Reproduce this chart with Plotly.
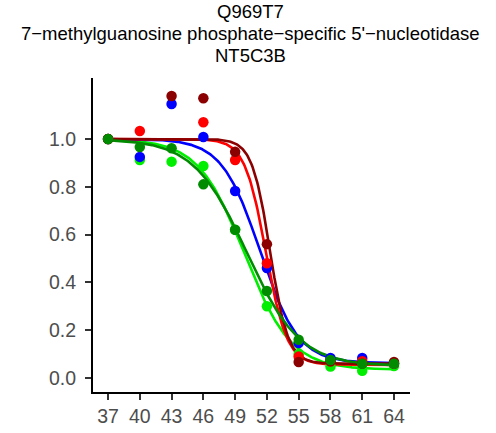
import numpy as np
import plotly.graph_objects as go

temperatures = [37, 40, 43, 46, 49, 52, 55, 58, 61, 64]
x_tick_labels = ["37", "40", "43", "46", "49", "52", "55", "58", "61", "64"]
y_tick_values = [0.0, 0.2, 0.4, 0.6, 0.8, 1.0]
y_tick_labels = ["0.0", "0.2", "0.4", "0.6", "0.8", "1.0"]

title_lines = ["Q969T7",
               "7\u2212methylguanosine phosphate\u2212specific 5'\u2212nucleotidase",
               "NT5C3B"]

series_names = ["lime", "blue", "red", "darkred", "green"]
series_colors = ["#00EE00", "#0000FF", "#FF0000", "#8B0000", "#008B00"]

lime_values = [1.0, 0.912, 0.905, 0.887, 0.62, 0.30, 0.10, 0.048, 0.03, 0.05]
blue_values = [1.0, 0.925, 1.146, 1.008, 0.782, 0.46, 0.146, 0.084, 0.084, 0.06]
red_values = [1.0, 1.033, None, 1.07, 0.912, 0.48, 0.09, 0.07, 0.07, 0.06]
darkred_values = [1.0, None, 1.18, 1.17, 0.946, 0.56, 0.067, 0.07, 0.06, 0.067]
green_values = [1.0, 0.966, 0.961, 0.81, 0.62, 0.364, 0.16, 0.075, 0.06, 0.06]

# fitted sigmoid parameters: (melting point, slope width, bottom plateau)
lime_fit = (49.9, 2.2, 0.035)
blue_fit = (51.35, 1.8, 0.062)
red_fit = (51.9, 1.0, 0.055)
darkred_fit = (52.3, 0.85, 0.06)
green_fit = (50.1, 2.5, 0.05)

values = [lime_values, blue_values, red_values, darkred_values, green_values]
fits = [lime_fit, blue_fit, red_fit, darkred_fit, green_fit]

t_grid = np.linspace(temperatures[0], temperatures[-1], 300)

fig = go.Figure()
for name, color, vals, (tm, s, bottom) in zip(series_names, series_colors, values, fits):
    curve = bottom + (1 - bottom) / (1 + np.exp((t_grid - tm) / s))
    fig.add_trace(go.Scatter(x=t_grid, y=curve, mode="lines",
                             line=dict(color=color, width=2.6),
                             showlegend=False, hoverinfo="skip"))
for name, color, vals in zip(series_names, series_colors, values):
    fig.add_trace(go.Scatter(x=temperatures, y=vals, mode="markers",
                             marker=dict(color=color, size=10.5),
                             showlegend=False, name=name))

title_y = [1.2118, 1.1424, 1.0717]
for line, ty in zip(title_lines, title_y):
    fig.add_annotation(text=line, xref="paper", yref="paper", x=0.4975, y=ty,
                       xanchor="center", yanchor="middle", showarrow=False,
                       font=dict(size=18.5, color="black"))

fig.update_layout(
    width=496, height=433,
    margin=dict(l=93, r=86, t=78, b=41),
    plot_bgcolor="white", paper_bgcolor="white",
    font=dict(family="Liberation Sans, Arial, Helvetica, sans-serif"),
)
fig.update_xaxes(
    range=[35.58, 65.51], tickvals=temperatures, ticktext=x_tick_labels,
    showgrid=False, zeroline=False, showline=True, linecolor="black", linewidth=2,
    ticks="outside", ticklen=6, tickwidth=2, tickcolor="#333333",
    ticklabelstandoff=0, automargin=False,
    tickfont=dict(size=19.5, color="#4D4D4D"),
)
fig.update_yaxes(
    range=[-0.0586, 1.255], tickvals=y_tick_values, ticktext=y_tick_labels,
    showgrid=False, zeroline=False, showline=True, linecolor="black", linewidth=2,
    ticks="outside", ticklen=6, tickwidth=2, tickcolor="#333333",
    ticklabelstandoff=5, automargin=False,
    tickfont=dict(size=19.5, color="#4D4D4D"),
)
fig.write_html("out.html", config={"displayModeBar": False},
               post_script="document.body.style.margin='0';document.body.style.overflow='hidden';")
